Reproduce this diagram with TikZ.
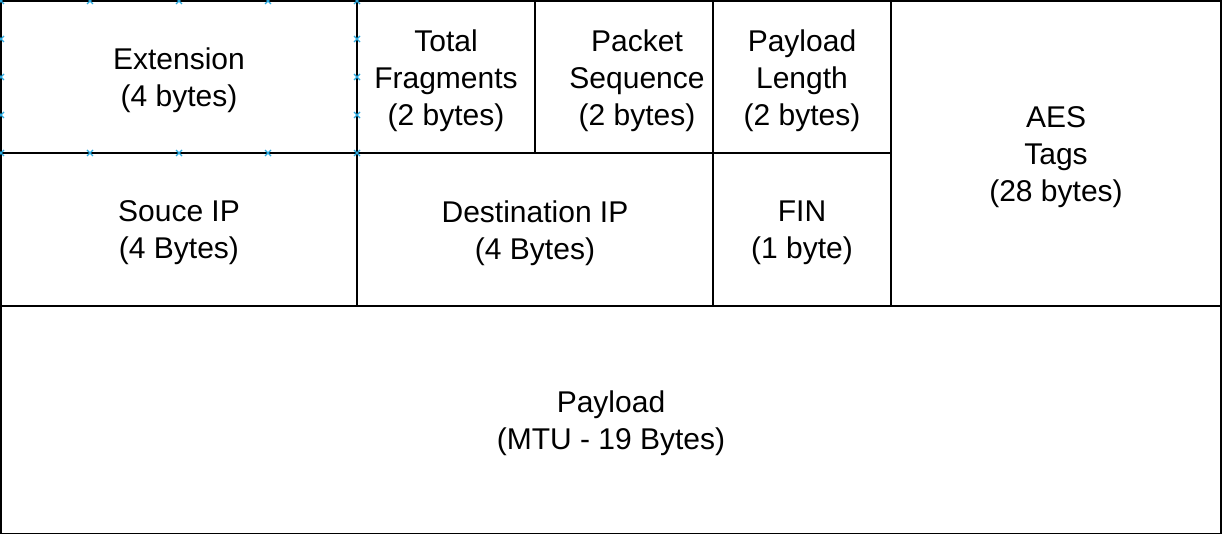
\documentclass[tikz,border=0pt]{standalone}
\usepackage{fontspec}
\setmainfont{Liberation Sans}
\definecolor{selblue}{RGB}{41,170,225}
\begin{document}
\begin{tikzpicture}[x=1pt,y=-1pt,
  cell/.style={draw=black,line width=2pt,inner sep=0pt,outer sep=0pt},
  lbl/.style={inner sep=0pt,align=center,yshift=-3.5pt,font=\fontsize{30}{37}\selectfont},
  selmark/.style={draw=selblue,line width=1.3pt}]
\useasboundingbox (0,0) rectangle (1222,534);
\fill[white] (0,0) rectangle (1222,534);
% row 1
\node[cell,minimum width=356,minimum height=152] (ext) at (179,77) {};
\node[cell,minimum width=178,minimum height=152] (tf) at (446,77) {};
\node[cell,minimum width=178,minimum height=152] (ps) at (624,77) {};
\node[cell,minimum width=178,minimum height=152] (pl) at (802,77) {};
\node[cell,minimum width=330,minimum height=305] (aes) at (1056,153.5) {};
% row 2
\node[cell,minimum width=356,minimum height=153] (src) at (179,229.5) {};
\node[cell,minimum width=356,minimum height=153] (dst) at (535,229.5) {};
\node[cell,minimum width=178,minimum height=153] (fin) at (802,229.5) {};
% row 3
\node[cell,minimum width=1220,minimum height=228] (pay) at (611,420) {};
% texts
\node[lbl] (ext-t) at (ext.center) {Extension\\(4 bytes)};
\node[lbl] (tf-t) at (tf.center) {Total\\Fragments\\(2 bytes)};
\node[lbl,xshift=13pt] (ps-t) at (ps.center) {Packet\\Sequence\\(2 bytes)};
\node[lbl] (pl-t) at (pl.center) {Payload\\Length\\(2 bytes)};
\node[lbl] (aes-t) at (aes.center) {AES\\Tags\\(28 bytes)};
\node[lbl] (src-t) at (src.center) {Souce IP\\(4 Bytes)};
\node[lbl] (dst-t) at (dst.center) {Destination IP\\(4 Bytes)};
\node[lbl] (fin-t) at (fin.center) {FIN\\(1 byte)};
\node[lbl] (pay-t) at (pay.center) {Payload\\(MTU - 19 Bytes)};
% selection markers on Extension
\foreach \px in {1,90,179,268,357}{
  \foreach \py in {1,153}{
    \draw[selmark] (\px-3,\py-3) -- (\px+3,\py+3) (\px-3,\py+3) -- (\px+3,\py-3);
  }
}
\foreach \px in {1,357}{
  \foreach \py in {39,77,115}{
    \draw[selmark] (\px-3,\py-3) -- (\px+3,\py+3) (\px-3,\py+3) -- (\px+3,\py-3);
  }
}
\end{tikzpicture}
\end{document}
